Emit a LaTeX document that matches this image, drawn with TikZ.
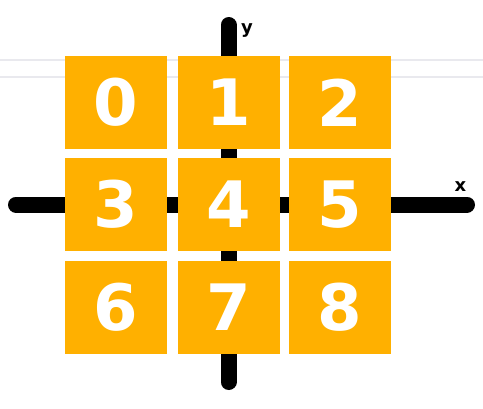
\documentclass[tikz,border=0pt]{standalone}
\usepackage{fontspec}
\setmainfont{DejaVu Sans}
\definecolor{amber}{HTML}{FFB000}
\definecolor{faint}{HTML}{E9E9EE}
\begin{document}
\begin{tikzpicture}[x=1pt,y=-1pt,
  cell/.style={fill=amber,draw=none,minimum width=102pt,minimum height=93pt,inner sep=0pt,
    text=white,font=\bfseries\fontsize{64}{64}\selectfont},
  axis/.style={line width=16pt,line cap=round,draw=black},
  axlabel/.style={font=\bfseries\fontsize{18}{18}\selectfont,inner sep=0pt},
  guide/.style={draw=faint,line width=1.6pt}]
\useasboundingbox (0,0) rectangle (483,408);
\coordinate (gl1) at (0,60); \coordinate (gr1) at (483,60);
\coordinate (gl2) at (0,77); \coordinate (gr2) at (483,77);
\draw[guide] (gl1) -- (gr1);
\draw[guide] (gl2) -- (gr2);
\coordinate (xl) at (16,204.5);
\coordinate (xr) at (467,204.5);
\coordinate (yt) at (228.5,25);
\coordinate (yb) at (228.5,382);
\draw[axis] (xl) -- (xr);
\draw[axis] (yt) -- (yb);
\node[cell] (c0) at (116,102.5) {0};
\node[cell] (c1) at (228.5,102.5) {1};
\node[cell] (c2) at (339.5,102.5) {2};
\node[cell] (c3) at (116,204.5) {3};
\node[cell] (c4) at (228.5,204.5) {4};
\node[cell] (c5) at (339.5,204.5) {5};
\node[cell] (c6) at (116,307) {6};
\node[cell] (c7) at (228.5,307) {7};
\node[cell] (c8) at (339.5,307) {8};
\node[axlabel] (lx) at (460.5,187) {x};
\node[axlabel] (ly) at (247,31) {y};
\end{tikzpicture}
\end{document}
